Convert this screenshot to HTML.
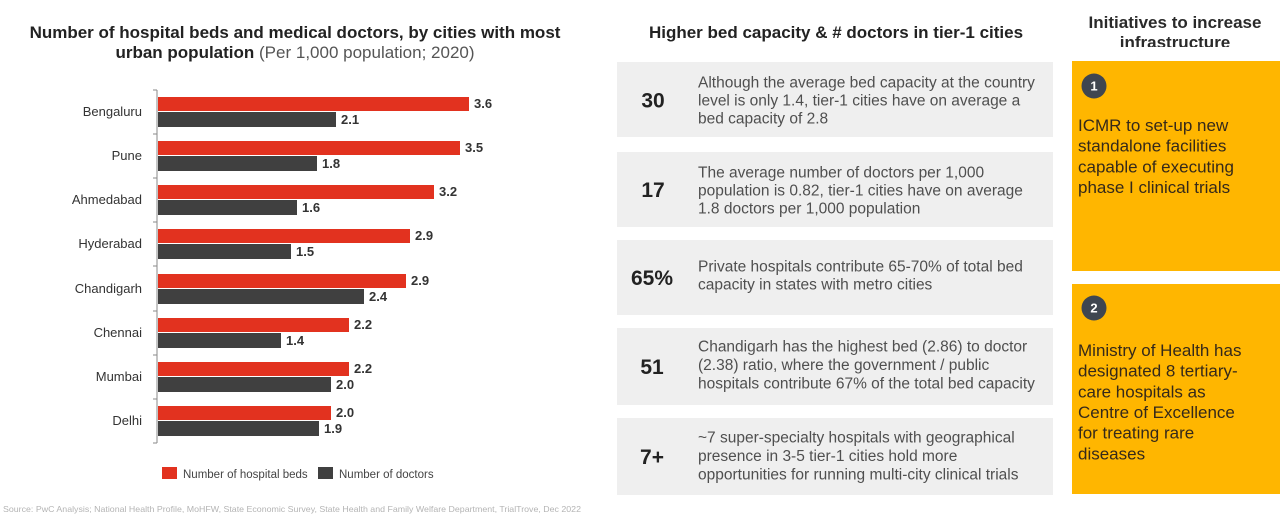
<!DOCTYPE html>
<html>
<head>
<meta charset="utf-8">
<style>
  html,body{margin:0;padding:0;background:#fff;}
  svg{display:block;}
  text{font-family:"Liberation Sans", Arial, sans-serif;}
</style>
</head>
<body>
<svg width="1280" height="520" viewBox="0 0 1280 520" xmlns="http://www.w3.org/2000/svg">
  <rect width="1280" height="520" fill="#ffffff"/>

  <!-- LEFT TITLE -->
  <text x="295" y="38" font-size="17" font-weight="bold" fill="#222" text-anchor="middle">Number of hospital beds and medical doctors, by cities with most</text>
  <text x="295" y="58" font-size="17" text-anchor="middle" fill="#222"><tspan font-weight="bold">urban population</tspan><tspan fill="#555"> (Per 1,000 population; 2020)</tspan></text>

  <!-- AXIS -->
  <line x1="157" y1="90" x2="157" y2="443" stroke="#8a8a8a" stroke-width="1"/>
  <g stroke="#8a8a8a" stroke-width="1">
    <line x1="153" y1="90" x2="157" y2="90"/>
    <line x1="153" y1="134" x2="157" y2="134"/>
    <line x1="153" y1="178" x2="157" y2="178"/>
    <line x1="153" y1="222" x2="157" y2="222"/>
    <line x1="153" y1="266" x2="157" y2="266"/>
    <line x1="153" y1="311" x2="157" y2="311"/>
    <line x1="153" y1="355" x2="157" y2="355"/>
    <line x1="153" y1="399" x2="157" y2="399"/>
    <line x1="153" y1="443" x2="157" y2="443"/>
  </g>

  <!-- BARS -->
  <g>
    <rect x="158" y="97" width="311" height="14" fill="#e2321f"/>
    <rect x="158" y="112" width="178" height="15" fill="#404040"/>
    <rect x="158" y="141" width="302" height="14" fill="#e2321f"/>
    <rect x="158" y="156" width="159" height="15" fill="#404040"/>
    <rect x="158" y="185" width="276" height="14" fill="#e2321f"/>
    <rect x="158" y="200" width="139" height="15" fill="#404040"/>
    <rect x="158" y="229" width="252" height="14" fill="#e2321f"/>
    <rect x="158" y="244" width="133" height="15" fill="#404040"/>
    <rect x="158" y="274" width="248" height="14" fill="#e2321f"/>
    <rect x="158" y="289" width="206" height="15" fill="#404040"/>
    <rect x="158" y="318" width="191" height="14" fill="#e2321f"/>
    <rect x="158" y="333" width="123" height="15" fill="#404040"/>
    <rect x="158" y="362" width="191" height="14" fill="#e2321f"/>
    <rect x="158" y="377" width="173" height="15" fill="#404040"/>
    <rect x="158" y="406" width="173" height="14" fill="#e2321f"/>
    <rect x="158" y="421" width="161" height="15" fill="#404040"/>
  </g>

  <!-- CATEGORY LABELS -->
  <g font-size="13" fill="#333" text-anchor="end">
    <text x="142" y="116">Bengaluru</text>
    <text x="142" y="160">Pune</text>
    <text x="142" y="204">Ahmedabad</text>
    <text x="142" y="248">Hyderabad</text>
    <text x="142" y="293">Chandigarh</text>
    <text x="142" y="337">Chennai</text>
    <text x="142" y="381">Mumbai</text>
    <text x="142" y="425">Delhi</text>
  </g>

  <!-- VALUE LABELS -->
  <g font-size="13" font-weight="bold" fill="#333">
    <text x="474" y="108">3.6</text>
    <text x="341" y="124">2.1</text>
    <text x="465" y="152">3.5</text>
    <text x="322" y="168">1.8</text>
    <text x="439" y="196">3.2</text>
    <text x="302" y="212">1.6</text>
    <text x="415" y="240">2.9</text>
    <text x="296" y="256">1.5</text>
    <text x="411" y="285">2.9</text>
    <text x="369" y="301">2.4</text>
    <text x="354" y="329">2.2</text>
    <text x="286" y="345">1.4</text>
    <text x="354" y="373">2.2</text>
    <text x="336" y="389">2.0</text>
    <text x="336" y="417">2.0</text>
    <text x="324" y="433">1.9</text>
  </g>

  <!-- LEGEND -->
  <rect x="162" y="467" width="15" height="12" fill="#e2321f"/>
  <text x="183" y="478" font-size="11.5" fill="#444">Number of hospital beds</text>
  <rect x="318" y="467" width="15" height="12" fill="#404040"/>
  <text x="339" y="478" font-size="11.5" fill="#444">Number of doctors</text>

  <!-- SOURCE -->
  <text x="3" y="512" font-size="8.3" fill="#b4b4b4" textLength="578" lengthAdjust="spacingAndGlyphs">Source: PwC Analysis; National Health Profile, MoHFW, State Economic Survey, State Health and Family Welfare Department, TrialTrove, Dec 2022</text>

  <!-- MIDDLE HEADER -->
  <text x="836" y="38" font-size="17" font-weight="bold" fill="#222" text-anchor="middle">Higher bed capacity &amp; # doctors in tier-1 cities</text>

  <!-- MIDDLE BOXES -->
  <g fill="#efefef">
    <rect x="617" y="62" width="436" height="75"/>
    <rect x="617" y="152" width="436" height="75"/>
    <rect x="617" y="240" width="436" height="75"/>
    <rect x="617" y="328" width="436" height="77"/>
    <rect x="617" y="418" width="436" height="77"/>
  </g>
  <g font-size="21" font-weight="bold" fill="#222" text-anchor="middle">
    <text x="653" y="107.5">30</text>
    <text x="653" y="197">17</text>
    <text x="652" y="285">65%</text>
    <text x="652" y="374">51</text>
    <text x="652" y="464">7+</text>
  </g>
  <g font-size="15.5" fill="#4f4f4f">
    <text x="698" y="87.5">Although the average bed capacity at the country</text>
    <text x="698" y="105.5">level is only 1.4, tier-1 cities have on average a</text>
    <text x="698" y="123.5">bed capacity of 2.8</text>

    <text x="698" y="177.5">The average number of doctors per 1,000</text>
    <text x="698" y="195.5">population is 0.82, tier-1 cities have on average</text>
    <text x="698" y="213.5">1.8 doctors per 1,000 population</text>

    <text x="698" y="271.5">Private hospitals contribute 65-70% of total bed</text>
    <text x="698" y="289.5">capacity in states with metro cities</text>

    <text x="698" y="351.5">Chandigarh has the highest bed (2.86) to doctor</text>
    <text x="698" y="370">(2.38) ratio, where the government / public</text>
    <text x="698" y="388.5">hospitals contribute 67% of the total bed capacity</text>

    <text x="698" y="442.5">~7 super-specialty hospitals with geographical</text>
    <text x="698" y="461">presence in 3-5 tier-1 cities hold more</text>
    <text x="698" y="479.5">opportunities for running multi-city clinical trials</text>
  </g>

  <!-- RIGHT HEADER (clipped) -->
  <defs>
    <clipPath id="hdrclip"><rect x="1060" y="0" width="220" height="47"/></clipPath>
  </defs>
  <g clip-path="url(#hdrclip)" font-size="17" font-weight="bold" fill="#2a2a2a" text-anchor="middle">
    <text x="1175" y="28">Initiatives to increase</text>
    <text x="1175" y="48">infrastructure</text>
  </g>

  <!-- YELLOW BOXES -->
  <rect x="1072" y="61" width="208" height="210" fill="#ffb600"/>
  <rect x="1072" y="284" width="208" height="210" fill="#ffb600"/>

  <circle cx="1094" cy="86" r="12.5" fill="#3f4650"/>
  <text x="1094" y="90.5" font-size="13" font-weight="bold" fill="#fff" text-anchor="middle">1</text>
  <circle cx="1094" cy="308" r="12.5" fill="#3f4650"/>
  <text x="1094" y="312.5" font-size="13" font-weight="bold" fill="#fff" text-anchor="middle">2</text>

  <g font-size="17" fill="#35291a">
    <text x="1078" y="131">ICMR to set-up new</text>
    <text x="1078" y="151.7">standalone facilities</text>
    <text x="1078" y="172.4">capable of executing</text>
    <text x="1078" y="193">phase I clinical trials</text>

    <text x="1078" y="356">Ministry of Health has</text>
    <text x="1078" y="376.7">designated 8 tertiary-</text>
    <text x="1078" y="397.4">care hospitals as</text>
    <text x="1078" y="418">Centre of Excellence</text>
    <text x="1078" y="438.7">for treating rare</text>
    <text x="1078" y="459.4">diseases</text>
  </g>
</svg>
</body>
</html>
